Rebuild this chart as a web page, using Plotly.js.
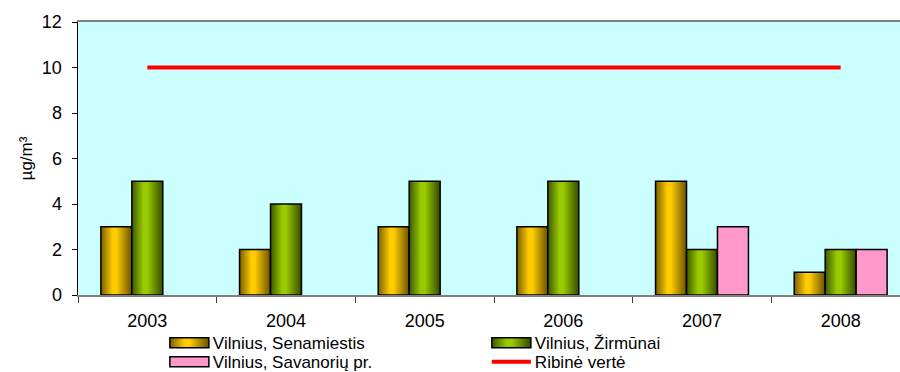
<!DOCTYPE html>
<html>
<head>
<meta charset="utf-8">
<script src="https://cdn.plot.ly/plotly-3.0.1.min.js"></script>
<style>
  html, body { margin: 0; padding: 0; background: #ffffff; overflow: hidden; }
  #chart { width: 911px; height: 372px; }
</style>
</head>
<body>
<div id="chart"></div>
<script>
// Annual mean concentrations per monitoring station, µg/m³
const years = ['2003', '2004', '2005', '2006', '2007', '2008'];
const senamiestis = [3, 2, 3, 3, 5, 1];
const zirmunai = [5, 4, 5, 5, 2, 2];
const savanoriu = [null, null, null, null, 3, 2];
const limitValue = [10, 10, 10, 10, 10, 10];

const seriesNames = ['Vilnius, Senamiestis', 'Vilnius, Žirmūnai', 'Vilnius, Savanorių pr.', 'Ribinė vertė'];
const yTicks = [0, 2, 4, 6, 8, 10, 12];

const FONT = 'Arial, "Liberation Sans", sans-serif';
const outline = { color: '#000000', width: 1.5 };

const traces = [
  { type: 'bar', name: seriesNames[0], x: years, y: senamiestis,
    marker: { color: '#FFCC00', line: outline } },
  { type: 'bar', name: seriesNames[1], x: years, y: zirmunai,
    marker: { color: '#99CC00', line: outline } },
  { type: 'bar', name: seriesNames[2], x: years, y: savanoriu,
    marker: { color: '#FF99CC', line: outline } },
  { type: 'scatter', mode: 'lines', name: seriesNames[3], x: years, y: limitValue,
    line: { color: '#FF0000', width: 4 } }
];

const layout = {
  width: 911, height: 372,
  margin: { l: 78, r: 1, t: 22, b: 77, pad: 0, autoexpand: false },
  paper_bgcolor: '#FFFFFF',
  plot_bgcolor: '#CCFFFF',
  font: { family: FONT, size: 17, color: '#000000' },
  barmode: 'group',
  bargap: 0.33,
  bargroupgap: 0,
  showlegend: true,
  legend: {
    orientation: 'h',
    x: 0.102, xanchor: 'left',
    y: -0.111, yanchor: 'top',
    entrywidth: 267, entrywidthmode: 'pixels',
    itemwidth: 40,
    tracegroupgap: 0,
    font: { family: FONT, size: 17, color: '#000000' },
    bgcolor: 'rgba(0,0,0,0)'
  },
  xaxis: {
    type: 'category',
    showline: true, linecolor: '#808080', linewidth: 2, mirror: true,
    showgrid: false, zeroline: false,
    ticks: 'outside', tickson: 'boundaries', ticklen: 6, tickcolor: '#404040', tickwidth: 1,
    ticklabelstandoff: 8,
    tickfont: { family: FONT, size: 18, color: '#000000' }
  },
  yaxis: {
    range: [0, 12],
    tickvals: yTicks,
    showline: true, linecolor: '#000000', linewidth: 1.5,
    showgrid: false, zeroline: false,
    ticks: 'outside', ticklen: 5, tickcolor: '#000000', tickwidth: 1,
    ticklabelstandoff: 6,
    tickfont: { family: FONT, size: 18, color: '#000000' },
    title: { text: 'µg/m³', font: { family: FONT, size: 17, color: '#000000' }, standoff: 5 }
  }
};

// Cylinder-like shading for the bars: dark edges, bright centre
function addGradient(svg, id, edgeL, mid, edgeR) {
  const ns = 'http://www.w3.org/2000/svg';
  let defs = svg.querySelector('defs');
  if (!defs) { defs = document.createElementNS(ns, 'defs'); svg.insertBefore(defs, svg.firstChild); }
  const g = document.createElementNS(ns, 'linearGradient');
  g.setAttribute('id', id);
  g.setAttribute('x1', '0'); g.setAttribute('y1', '0');
  g.setAttribute('x2', '1'); g.setAttribute('y2', '0');
  [[0, edgeL], [0.38, mid], [0.5, mid], [1, edgeR]].forEach(([o, c]) => {
    const s = document.createElementNS(ns, 'stop');
    s.setAttribute('offset', o);
    s.setAttribute('stop-color', c);
    g.appendChild(s);
  });
  defs.appendChild(g);
}

Plotly.newPlot('chart', traces, layout, { staticPlot: true, displayModeBar: false }).then(gd => {
  const svg = gd.querySelector('.main-svg');
  addGradient(svg, 'gradYellow', '#7A5E00', '#FFCC00', '#6A5200');
  addGradient(svg, 'gradGreen', '#3E5800', '#99CC00', '#354A00');
  const fills = ['url(#gradYellow)', 'url(#gradGreen)'];

  gd.querySelectorAll('.barlayer .trace').forEach((t, i) => {
    if (fills[i]) t.querySelectorAll('.point path').forEach(p => { p.style.fill = fills[i]; });
  });

  // The legend sits low in the figure: show it whole, without the scroll clip
  gd.querySelectorAll('.legend .scrollbox, .legend').forEach(el => el.removeAttribute('clip-path'));
  gd.querySelectorAll('.legend .scrollbar').forEach(el => el.remove());

  // Wide legend swatches placed just before each label; rows packed closer
  let firstY = null;
  gd.querySelectorAll('.legend .traces').forEach((item, i) => {
    const txt = item.querySelector('.legendtext');
    const tx = parseFloat(txt.getAttribute('x'));
    const b = tx - 4, a = b - 39;
    item.querySelectorAll('.legendpoints path').forEach(p => {
      p.setAttribute('transform', '');
      p.setAttribute('d', 'M' + a + ',5H' + b + 'V-5H' + a + 'Z');
      if (fills[i]) p.style.fill = fills[i];
    });
    item.querySelectorAll('.legendlines path').forEach(p => {
      p.setAttribute('transform', '');
      p.setAttribute('d', 'M' + a + ',0H' + b);
    });
    const m = /translate\(\s*([-\d.]+)[ ,]+([-\d.]+)\s*\)/.exec(item.getAttribute('transform') || '');
    if (m) {
      const x = parseFloat(m[1]), y = parseFloat(m[2]);
      if (firstY === null) firstY = y;
      if (y > firstY) item.setAttribute('transform', 'translate(' + x + ',' + (firstY + 19) + ')');
    }
  });
});
</script>
</body>
</html>
